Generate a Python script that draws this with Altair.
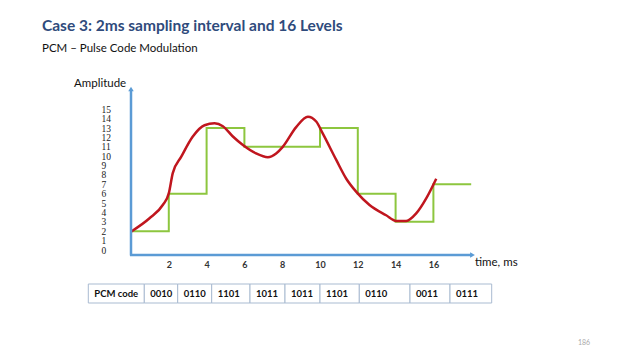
import altair as alt
import pandas as pd

# ---------------- data ----------------
pcm_codes = ["0010", "0110", "1101", "1011", "1011", "1101", "0110", "0011", "0111"]
sample_times = [0, 2, 4, 6, 8, 10, 12, 14, 16]
hold_end_time = 18

signal_t = [0, 0.98, 1.68, 2.0, 2.21, 2.66, 3.27, 3.89, 4.42, 4.86, 5.39, 5.92, 6.62, 7.24,
            7.68, 8.03, 8.74, 9.36, 9.8, 10.15, 10.86, 11.39, 11.92, 12.62, 13.5, 14.03,
            14.56, 15.09, 15.62, 16.15]
signal_v = [1.95, 3.38, 4.8, 6.04, 8.2, 9.95, 12.1, 13.3, 13.5, 13.2, 12.1, 11.2, 10.3, 9.9,
            10.3, 11.0, 13.1, 14.2, 13.7, 12.4, 9.6, 7.6, 6.2, 4.8, 3.7, 3.1,
            3.1, 3.9, 5.5, 7.6]

y_tick_values = list(range(0, 16))
x_tick_values = [2, 4, 6, 8, 10, 12, 14, 16]

title_text = "Case 3: 2ms sampling interval and 16 Levels"
subtitle_text = "PCM \u2013 Pulse Code Modulation"
y_label = "Amplitude"
x_label = "time, ms"
table_header = "PCM code"
page_number = "186"

# ---------------- layout ----------------
PX_PER_MS = 18.9
PX_PER_LEVEL = 9.38
W, H = 345, 170
PLOT_LEFT, PLOT_TOP = 131, 85          # page coords of plot origin
X_DOMAIN = [0, W / PX_PER_MS]
Y_DOMAIN = [-0.533, -0.533 + H / PX_PER_LEVEL]
TABLE_EDGES_PAGE = [88.3, 144.3, 177.7, 211.7, 250, 285, 320, 359.3, 410, 450, 491.7]
TABLE_TOP_PAGE, TABLE_BOTTOM_PAGE = 284, 303
TOTAL_W, TOTAL_H = 624, 344

AXIS_BLUE = "#5B9BD5"
RED = "#C0161E"
GREEN = "#8DC63F"
TITLE_BLUE = "#2F4B7C"


def lx(page_x):
    return page_x - PLOT_LEFT


def ly(page_y):
    return page_y - PLOT_TOP


levels = [int(c, 2) for c in pcm_codes]
step_df = pd.DataFrame({"t": sample_times + [hold_end_time], "v": levels + [levels[-1]]})
sig_df = pd.DataFrame({"t": signal_t, "v": signal_v})

xscale = alt.Scale(domain=X_DOMAIN, nice=False, zero=False)
yscale = alt.Scale(domain=Y_DOMAIN, nice=False, zero=False)
xaxis = alt.Axis(values=x_tick_values, domain=False, ticks=False, tickSize=0, grid=False,
                 title=None, labelFontSize=9, labelFont="Lato", labelFontWeight="bold",
                 labelColor="#333333", labelPadding=5, labelOverlap=False)
yaxis = alt.Axis(values=y_tick_values, domain=False, ticks=False, tickSize=0, grid=False,
                 title=None, labelFontSize=9.5, labelFont="Liberation Serif",
                 labelColor="#222222", labelAlign="left", labelPadding=30,
                 labelBaseline="middle", labelOverlap=False)

steps = alt.Chart(step_df).mark_line(interpolate="step-after", color=GREEN, strokeWidth=2).encode(
    x=alt.X("t:Q", scale=xscale, axis=xaxis),
    y=alt.Y("v:Q", scale=yscale, axis=yaxis),
)
signal = alt.Chart(sig_df).mark_line(interpolate="monotone", color=RED, strokeWidth=2.5).encode(
    x=alt.X("t:Q", scale=xscale, axis=xaxis),
    y=alt.Y("v:Q", scale=yscale, axis=yaxis),
)

one = pd.DataFrame({"k": [0]})

y_axis_line = alt.Chart(one).mark_rule(color=AXIS_BLUE, strokeWidth=2.5).encode(
    x=alt.value(0), y=alt.value(ly(255.5)), y2=alt.value(ly(90)))
x_axis_line = alt.Chart(one).mark_rule(color=AXIS_BLUE, strokeWidth=2.5).encode(
    x=alt.value(-1), x2=alt.value(lx(471)), y=alt.value(ly(255)))
y_arrow = alt.Chart(one).mark_point(shape="triangle-up", filled=True, color=AXIS_BLUE,
                                    size=30, opacity=1).encode(
    x=alt.value(0), y=alt.value(ly(89)))
x_arrow = alt.Chart(one).mark_point(shape="triangle-right", filled=True, color=AXIS_BLUE,
                                    size=30, opacity=1).encode(
    x=alt.value(lx(472.5)), y=alt.value(ly(255)))


def text_layer(txt, px, py, size, color="#111111", weight="normal", font="Lato",
               baseline="alphabetic", align="left"):
    return alt.Chart(one).mark_text(text=txt, fontSize=size, color=color, fontWeight=weight,
                                    font=font, baseline=baseline, align=align).encode(
        x=alt.value(lx(px)), y=alt.value(ly(py)))


title = text_layer(title_text, 42, 31, 15.5, TITLE_BLUE, "bold")
subtitle = text_layer(subtitle_text, 42, 52, 11.5, "#111111")
amp = text_layer(y_label, 74, 87, 11.5, "#111111")
tlab = text_layer(x_label, 475, 263, 11.5, "#111111", baseline="middle")
pnum = text_layer(page_number, 578, 343, 7, "#aaaaaa", baseline="middle")

# table
cells = [table_header] + pcm_codes
tbl_df = pd.DataFrame({
    "label": cells,
    "x0": [lx(e) for e in TABLE_EDGES_PAGE[:-1]],
    "x1": [lx(e) for e in TABLE_EDGES_PAGE[1:]],
})
tbl_df["tx"] = tbl_df["x0"] + 6
tbl_rects = alt.Chart(tbl_df).mark_rect(fill="white", stroke="#A9BBD1", strokeWidth=1).encode(
    x=alt.X("x0:Q", scale=None), x2="x1:Q",
    y=alt.value(ly(TABLE_TOP_PAGE)), y2=alt.value(ly(TABLE_BOTTOM_PAGE)))
tbl_text = alt.Chart(tbl_df).mark_text(align="left", baseline="middle", fontSize=9.5,
                                       fontWeight="bold", font="Lato", color="#111111").encode(
    x=alt.X("tx:Q", scale=None), y=alt.value(ly(294)), text="label:N")

chart = alt.layer(
    steps, signal, y_axis_line, x_axis_line, y_arrow, x_arrow,
    title, subtitle, amp, tlab, pnum, tbl_rects, tbl_text,
).properties(
    width=W, height=H,
    autosize=alt.AutoSizeParams(type="none"),
    padding={"left": PLOT_LEFT - 8, "top": PLOT_TOP - 8,
             "right": TOTAL_W - (PLOT_LEFT - 8) - W, "bottom": TOTAL_H - (PLOT_TOP - 8) - H},
    background="white",
).configure_view(stroke=None)

chart.save("out.html", embed_options={"renderer": "svg", "actions": False})
